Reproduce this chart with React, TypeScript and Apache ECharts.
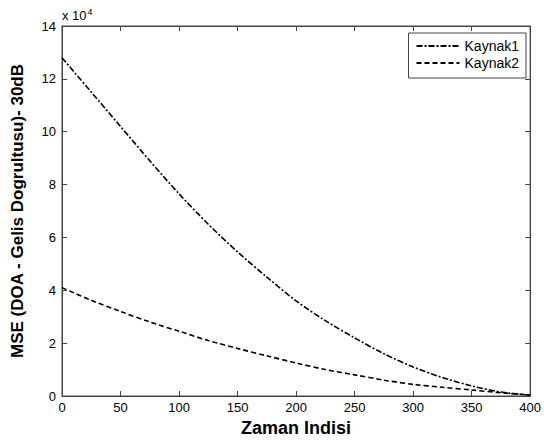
import React, { useEffect, useRef } from "react";
import * as echarts from "echarts";

const xValues = [0, 25, 50, 75, 100, 125, 150, 175, 200, 225, 250, 275, 300, 325, 350, 375, 400];
const kaynak1 = [12.8, 11.5, 10.2, 8.9, 7.65, 6.5, 5.45, 4.5, 3.6, 2.85, 2.2, 1.6, 1.1, 0.7, 0.38, 0.15, 0.03];
const kaynak2 = [4.1, 3.62, 3.2, 2.8, 2.45, 2.1, 1.8, 1.52, 1.25, 1.0, 0.8, 0.6, 0.44, 0.33, 0.23, 0.12, 0.04];
const scale = 1e4;
const seriesNames = ["Kaynak1", "Kaynak2"];

const FONT = "Liberation Sans, Arial, sans-serif";

export default function App() {
  const ref = useRef<HTMLDivElement>(null);
  useEffect(() => {
    if (!ref.current) return;
    const chart = echarts.init(ref.current, undefined, { renderer: "svg" });
    const axisLine = { show: true, onZero: false, lineStyle: { color: "#444", width: 1 } };
    const tick = { show: true, inside: true, length: 5, lineStyle: { color: "#444", width: 1 } };
    const xBase = { type: "value" as const, min: 0, max: 400, interval: 50, splitLine: { show: false }, axisLine, axisTick: tick };
    const yBase = { type: "value" as const, min: 0, max: 14 * scale, interval: 2 * scale, splitLine: { show: false }, axisLine, axisTick: tick };
    chart.setOption({
      animation: false,
      backgroundColor: "#fff",
      grid: {
        left: 62,
        right: 11,
        top: 26,
        bottom: 46,
        containLabel: false,
        show: true,
        borderColor: "#444",
        borderWidth: 1,
        backgroundColor: "transparent",
      },
      legend: {
        show: true,
        data: seriesNames,
        orient: "vertical",
        right: 18,
        top: 33,
        itemWidth: 43,
        itemHeight: 13,
        itemGap: 3,
        padding: [6, 7, 8, 7],
        backgroundColor: "#fff",
        borderColor: "#444",
        borderWidth: 1,
        borderRadius: 0,
        itemStyle: { opacity: 0, borderWidth: 0 },
        textStyle: { fontFamily: FONT, fontSize: 14, color: "#000" },
      },
      xAxis: [
        {
          ...xBase,
          position: "bottom",
          axisLabel: { show: true, fontFamily: FONT, fontSize: 13, color: "#000", margin: 5 },
          name: "Zaman Indisi",
          nameLocation: "middle",
          nameGap: 21,
          nameTextStyle: { fontFamily: FONT, fontSize: 18, fontWeight: "bold", color: "#000" },
        },
        { ...xBase, position: "top", axisLabel: { show: false } },
      ],
      yAxis: [
        {
          ...yBase,
          position: "left",
          axisLabel: {
            show: true,
            fontFamily: FONT,
            fontSize: 13,
            color: "#000",
            margin: 6,
            formatter: (v: number) => String(Math.round(v / scale)),
          },
          name: "MSE (DOA - Gelis Dogrultusu)- 30dB",
          nameLocation: "middle",
          nameGap: 36,
          nameTextStyle: { fontFamily: FONT, fontSize: 17, fontWeight: "bold", color: "#000" },
        },
        { ...yBase, position: "right", axisLabel: { show: false } },
      ],
      graphic: [
        {
          type: "text",
          left: 62,
          top: 7,
          style: {
            text: "x 10{s|4}",
            font: `13px ${FONT}`,
            fill: "#000",
            rich: { s: { fontSize: 9, verticalAlign: "top", padding: [0, 0, 7, 1], fontFamily: FONT } },
          },
        },
      ],
      series: [
        {
          name: seriesNames[0],
          type: "line",
          xAxisIndex: 0,
          yAxisIndex: 0,
          data: xValues.map((x, i) => [x, kaynak1[i] * scale]),
          smooth: 0.3,
          showSymbol: false,
          symbol: "none",
          lineStyle: { color: "#000", width: 1.6, type: [6, 2, 2, 2] },
          itemStyle: { color: "#000" },
        },
        {
          name: seriesNames[1],
          type: "line",
          xAxisIndex: 0,
          yAxisIndex: 0,
          data: xValues.map((x, i) => [x, kaynak2[i] * scale]),
          smooth: 0.3,
          showSymbol: false,
          symbol: "none",
          lineStyle: { color: "#000", width: 1.6, type: [5, 3] },
          itemStyle: { color: "#000" },
        },
      ],
    });
    return () => chart.dispose();
  }, []);
  return <div ref={ref} style={{ width: 544, height: 442, position: "absolute", left: 0, top: 0 }} />;
}
